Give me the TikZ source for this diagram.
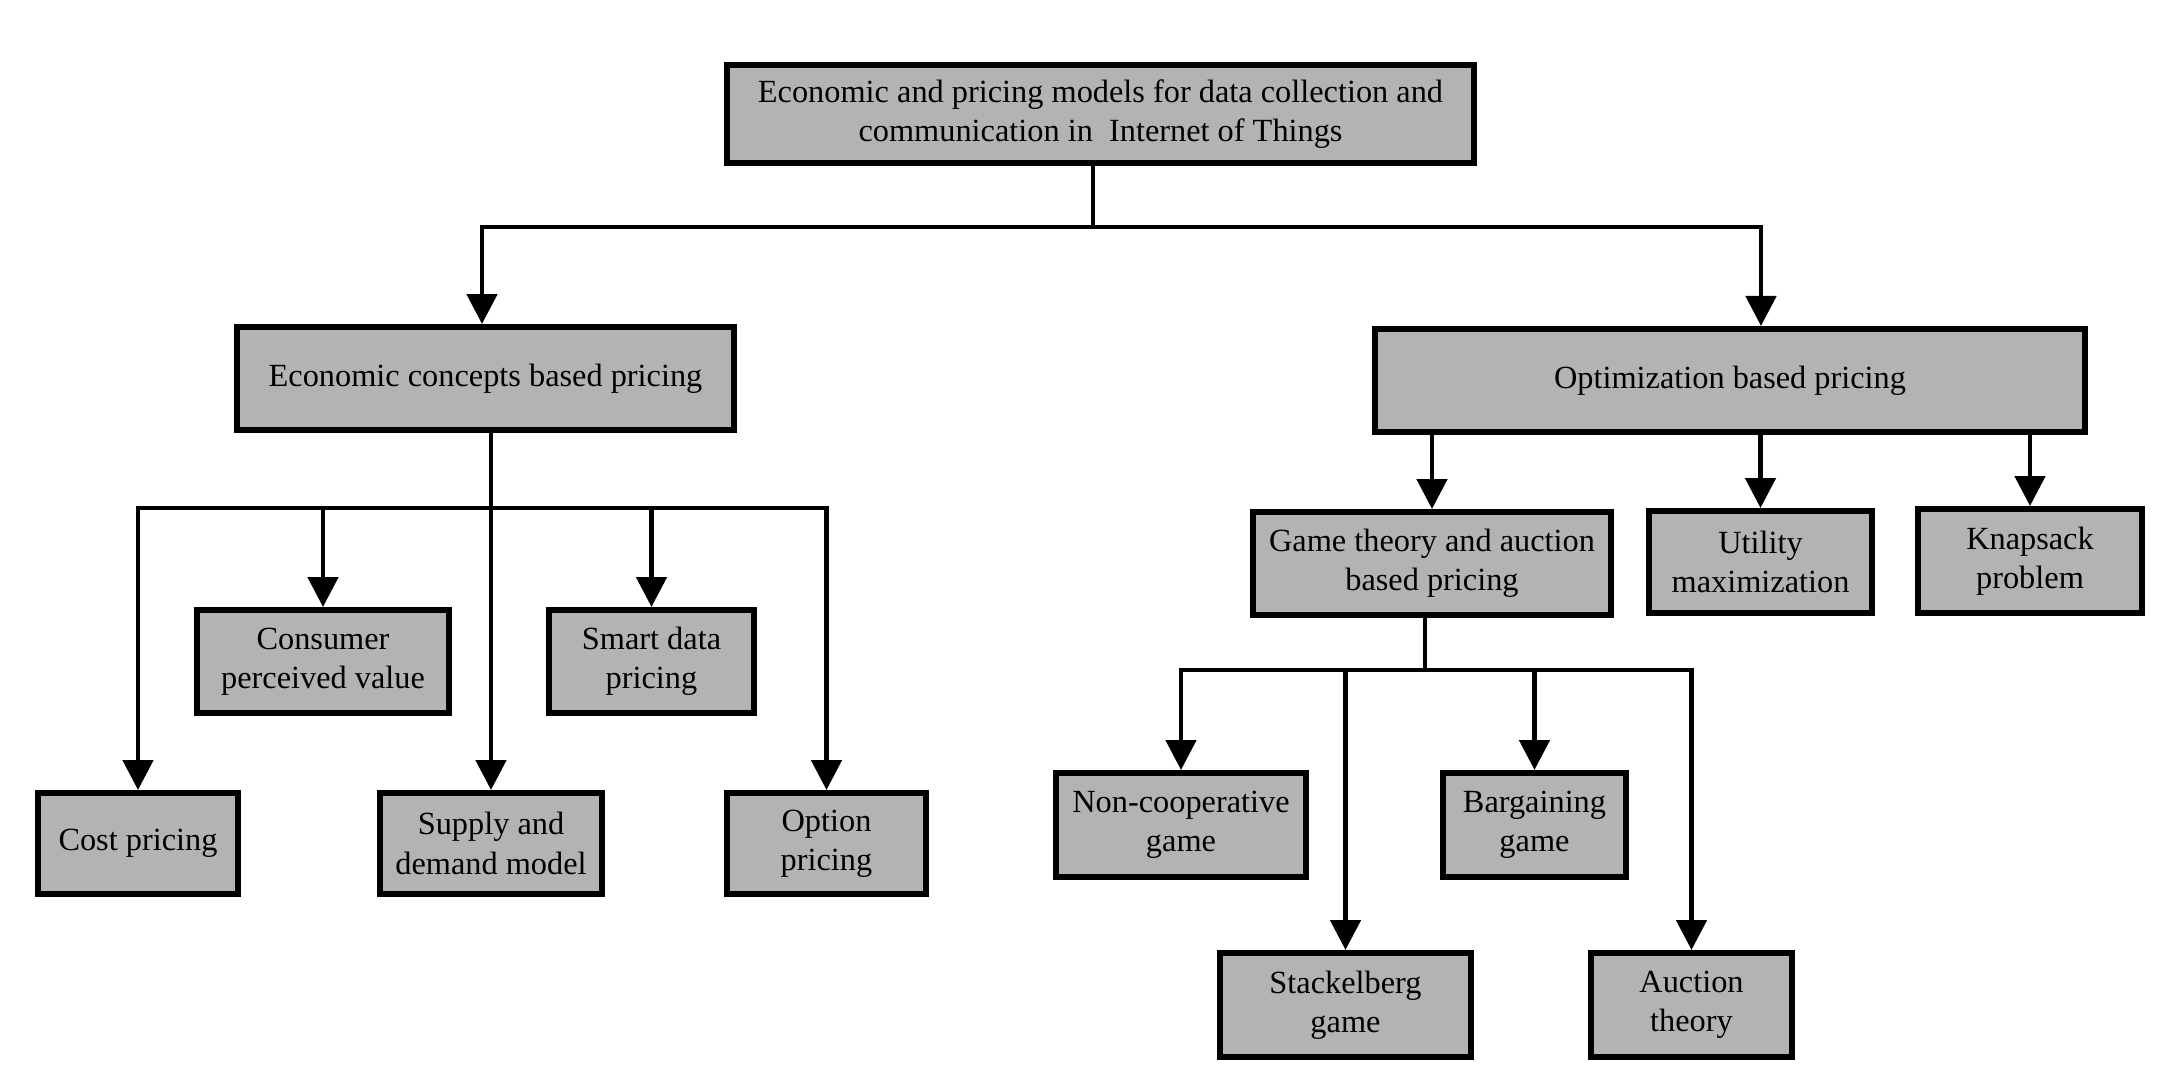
\documentclass[tikz,border=0pt]{standalone}
\usepackage{fontspec}
\setmainfont{Liberation Serif}
\usetikzlibrary{arrows.meta}
\definecolor{boxgray}{RGB}{179,179,179}
\tikzset{
  box/.style={draw=black, line width=1.7pt, fill=boxgray, align=center, inner sep=0pt,
              font=\fontsize{9.2pt}{11.2pt}\selectfont},
  conn/.style={line width=1.4pt, draw=black},
  arr/.style={conn, -{Triangle[width=3mm,length=3mm]}},
}
\begin{document}
\begin{tikzpicture}
\path[fill=white] (0,0) rectangle (21.84,-10.72);
\useasboundingbox (0,0) rectangle (21.84,-10.72);

\node[box, minimum width=7.47cm, minimum height=0.98cm] (root) at (11.005,-1.14)
  {Economic and pricing models for data collection and\\communication in\ \ Internet of Things};
\node[box, minimum width=4.97cm, minimum height=1.03cm] (econ) at (4.855,-3.785) {Economic concepts based pricing};
\node[box, minimum width=7.10cm, minimum height=1.03cm] (optim) at (17.30,-3.805) {Optimization based pricing};

\node[box, minimum width=2.52cm, minimum height=1.03cm] (consumer) at (3.23,-6.615) {Consumer\\perceived value};
\node[box, minimum width=2.05cm, minimum height=1.03cm] (smart) at (6.515,-6.615) {Smart data\\pricing};
\node[box, minimum width=2.00cm, minimum height=1.01cm] (cost) at (1.38,-8.435) {Cost pricing};
\node[box, minimum width=2.22cm, minimum height=1.01cm] (supply) at (4.91,-8.435) {Supply and\\demand model};
\node[box, minimum width=1.99cm, minimum height=1.01cm] (option) at (8.265,-8.435) {Option\\pricing};

\node[box, minimum width=3.58cm, minimum height=1.03cm] (game) at (14.32,-5.635) {Game theory and auction\\based pricing};
\node[box, minimum width=2.23cm, minimum height=1.02cm] (utility) at (17.605,-5.62) {Utility\\maximization};
\node[box, minimum width=2.24cm, minimum height=1.04cm] (knap) at (20.30,-5.61) {Knapsack\\problem};

\node[box, minimum width=2.50cm, minimum height=1.04cm] (noncoop) at (11.81,-8.25) {Non-cooperative\\game};
\node[box, minimum width=1.83cm, minimum height=1.04cm] (bargain) at (15.345,-8.25) {Bargaining\\game};
\node[box, minimum width=2.51cm, minimum height=1.04cm] (stackel) at (13.455,-10.05) {Stackelberg\\game};
\node[box, minimum width=2.01cm, minimum height=1.04cm] (auction) at (16.915,-10.05) {Auction\\theory};

\coordinate (h1) at (10.93,-2.27);
\coordinate (h2) at (4.91,-5.08);
\coordinate (h3) at (14.25,-6.70);

% top level
\draw[conn] (root.south -| h1) -- (h1);
\draw[arr] (h1) -| ([xshift=-0.35mm]econ.north);
\draw[arr] (h1) -| ([xshift=3.1mm]optim.north);

% economic concepts
\draw[conn] (econ.south -| h2) -- (h2);
\draw[arr] (h2) -- (supply.north);
\draw[arr] (h2) -| (cost.north);
\draw[arr] (h2) -| (consumer.north);
\draw[arr] (h2) -| (smart.north);
\draw[arr] (h2) -| (option.north);

% optimization
\draw[arr] (optim.south -| game.north) -- (game.north);
\draw[arr] (optim.south -| utility.north) -- (utility.north);
\draw[arr] (optim.south -| knap.north) -- (knap.north);

% game theory
\draw[conn] (game.south -| h3) -- (h3);
\draw[arr] (h3) -| (noncoop.north);
\draw[arr] (h3) -| (stackel.north);
\draw[arr] (h3) -| (bargain.north);
\draw[arr] (h3) -| (auction.north);
\end{tikzpicture}
\end{document}
